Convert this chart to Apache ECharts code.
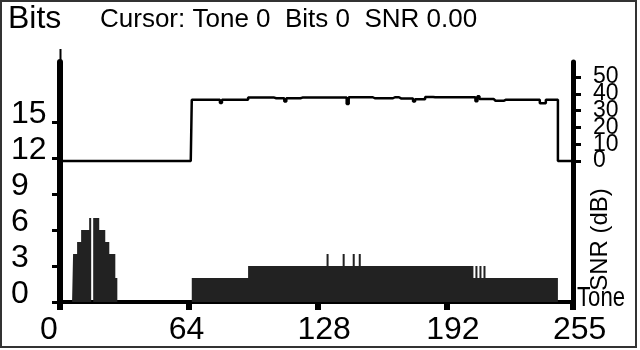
<!DOCTYPE html>
<html>
<head>
<meta charset="utf-8">
<script src="https://cdn.jsdelivr.net/npm/echarts@6/dist/echarts.min.js"></script>
<style>
html,body{margin:0;padding:0;background:#fff;}
#chart{width:640px;height:350px;}
</style>
</head>
<body>
<div id="chart"></div>
<script>
// Bits loaded per tone (tones 0..255)
const bitsPerTone = [
  0,0,0,0,0,0,0,4,4,5,5,6,6,6,6,7,
  0,7,7,7,6,6,6,5,5,4,4,4,2,0,0,0,
  0,0,0,0,0,0,0,0,0,0,0,0,0,0,0,0,
  0,0,0,0,0,0,0,0,0,0,0,0,0,0,0,0,
  0,0,2,2,2,2,2,2,2,2,2,2,2,2,2,2,
  2,2,2,2,2,2,2,2,2,2,2,2,2,2,3,3,
  3,3,3,3,3,3,3,3,3,3,3,3,3,3,3,3,
  3,3,3,3,3,3,3,3,3,3,3,3,3,3,3,3,
  3,3,3,3,3,4,3,3,3,3,3,3,3,4,3,3,
  3,3,4,3,3,4,3,3,3,3,3,3,3,3,3,3,
  3,3,3,3,3,3,3,3,3,3,3,3,3,3,3,3,
  3,3,3,3,3,3,3,3,3,3,3,3,3,3,3,3,
  3,3,3,3,3,3,3,3,3,3,3,3,3,3,2,3,
  2,3,2,3,2,2,2,2,2,2,2,2,2,2,2,2,
  2,2,2,2,2,2,2,2,2,2,2,2,2,2,2,2,
  2,2,2,2,2,2,2,2,0,0,0,0,0,0,0,0
];

// SNR per tone in dB (tones 0..255)
const snrPerTone = [
  0,0,0,0,0,0,0,0,0,0,0,0,0,0,0,0,
  0,0,0,0,0,0,0,0,0,0,0,0,0,0,0,0,
  0,0,0,0,0,0,0,0,0,0,0,0,0,0,0,0,
  0,0,0,0,0,0,0,0,0,0,0,0,0,0,0,0,
  0,0,36.5,36.5,36.5,36.5,36.5,36.5,36.5,36.5,36.5,36.5,36.5,36.5,36.5,36.5,
  34.5,36.5,36.5,36.5,36.5,36.5,36.5,36.5,36.5,36.5,36.5,36.5,36.5,36.5,37.8,37.8,
  37.8,37.8,37.8,37.8,37.8,37.8,37.8,37.8,37.8,37.8,37.8,37.4,37.4,37.4,37.4,37.4,
  35.5,37.4,37.4,37.4,37.4,37.4,37.4,37.4,37.8,37.8,37.8,37.8,37.8,37.8,37.8,37.8,
  37.8,37.8,37.8,37.8,37.8,37.8,37.8,37.8,37.8,37.8,37.8,37.8,37.8,37.8,37.8,34,
  38,38,38,38,38,38,38,38,38,38,38,38,37.4,37.4,37.4,37.4,
  37.4,37.4,37.4,37.4,37.4,37.4,38,38,38,37.3,37.3,37.3,37.3,37.3,37.3,37.3,
  35.5,36.8,36.8,36.8,36.8,36.8,38.2,38.2,38.2,38.2,38,38,38,38,38,38,
  38,38,38,38,38,38,38,38,38,38,38,38,38,38,38,35.6,
  38.6,37,37,37,37,37,37,37,35.9,35.9,35.9,35.9,35.9,36.5,36.5,36.5,
  36.5,36.5,36.5,36.5,36.5,36.5,36.5,36.5,36.5,36.5,36.5,36.5,36.5,36.5,36.5,34.4,
  34.4,34.4,36.5,36.5,36.5,36.5,36.5,36.5,0,0,0,0,0,0,0,0
];

const toneTicks = [0, 64, 128, 192, 255];
const bitTicks = [0, 3, 6, 9, 12, 15];
const snrTicks = [0, 10, 20, 30, 40, 50];
const snrLabelsEven = [0, 20, 40];
const snrLabelsOdd = [10, 30, 50];

const titleText = 'Bits';
const cursorText = 'Cursor: Tone 0  Bits 0  SNR 0.00';
const snrAxisName = 'SNR (dB)';
const toneAxisName = 'Tone';

const FONT = '"Liberation Sans", Arial, sans-serif';
const SNR_MIN = -84, SNR_MAX = 59;

const chart = echarts.init(document.getElementById('chart'), null, {renderer: 'canvas'});

function snrLabelAxis(values) {
  return {
    type: 'value', min: SNR_MIN, max: SNR_MAX, position: 'right', offset: 0,
    axisLine: {show: false}, axisTick: {show: false}, splitLine: {show: false},
    axisLabel: {customValues: values, margin: 20, align: 'left',
                hideOverlap: false, showMinLabel: true, showMaxLabel: true,
                fontSize: 23, color: '#000', fontFamily: FONT}
  };
}

const option = {
  animation: false,
  backgroundColor: '#fff',
  title: [
    {text: titleText, left: 8, top: 3, padding: 0,
     textStyle: {fontSize: 32, fontWeight: 'normal', color: '#000', fontFamily: FONT}},
    {text: cursorText, left: 100, top: 7, padding: 0,
     textStyle: {fontSize: 26, fontWeight: 'normal', color: '#000', fontFamily: FONT}}
  ],
  grid: {left: 60, right: 67, top: 62, bottom: 48, containLabel: false},
  xAxis: {
    type: 'value', min: 0, max: 255,
    axisLine: {lineStyle: {color: '#000', width: 4}},
    axisTick: {customValues: toneTicks, length: 8, lineStyle: {color: '#000', width: 6}},
    axisLabel: {
      customValues: toneTicks, margin: 12, align: 'center', hideOverlap: false,
      showMinLabel: true, showMaxLabel: true,
      formatter: v => '{t|' + v + '}',
      rich: {t: {width: 40, align: 'left', fontSize: 32, color: '#000', fontFamily: FONT}}
    },
    splitLine: {show: false}
  },
  yAxis: [
    {
      type: 'value', min: 0, max: 20, position: 'left',
      axisLine: {show: true, lineStyle: {color: '#000', width: 6}},
      axisTick: {show: true, customValues: bitTicks, length: 8, lineStyle: {color: '#000', width: 3}},
      axisLabel: {customValues: bitTicks, margin: 49, align: 'left', verticalAlign: 'bottom',
                  hideOverlap: false, showMinLabel: true, showMaxLabel: true,
                  lineHeight: 15, fontSize: 32, color: '#000', fontFamily: FONT},
      splitLine: {show: false}
    },
    {
      type: 'value', min: SNR_MIN, max: SNR_MAX, position: 'right', offset: 0,
      axisLine: {show: true, lineStyle: {color: '#000', width: 5}},
      axisTick: {show: true, customValues: snrTicks, length: 8, lineStyle: {color: '#000', width: 3}},
      axisLabel: {show: false},
      splitLine: {show: false}
    },
    snrLabelAxis(snrLabelsEven),
    snrLabelAxis(snrLabelsOdd)
  ],
  series: [
    {
      name: 'Bits', type: 'line', step: 'middle', yAxisIndex: 0,
      data: bitsPerTone.map((b, i) => [i, b]),
      symbol: 'none', lineStyle: {width: 0, opacity: 0},
      areaStyle: {color: '#222', opacity: 1}, z: 1
    },
    {
      name: 'SNR', type: 'line', step: 'middle', yAxisIndex: 1,
      data: snrPerTone.map((s, i) => [i, s]),
      symbol: 'none', lineStyle: {color: '#000', width: 2.5}, z: 3
    }
  ]
};
chart.setOption(option);

// decorations placed through the chart's own scales
const topLeft = chart.convertToPixel({xAxisIndex: 0, yAxisIndex: 0}, [0, 20]);
const bottomRight = chart.convertToPixel({xAxisIndex: 0, yAxisIndex: 0}, [255, 0]);
const snrMid = chart.convertToPixel({xAxisIndex: 0, yAxisIndex: 1}, [255, -42]);

chart.setOption({
  graphic: [
    {type: 'rect', shape: {x: 1, y: 1, width: 635, height: 346},
     style: {fill: 'none', stroke: '#333', lineWidth: 2}, silent: true},
    {type: 'line', shape: {x1: topLeft[0] + 0.5, y1: topLeft[1] - 13, x2: topLeft[0] + 0.5, y2: topLeft[1]},
     style: {stroke: '#000', lineWidth: 2}},
    {type: 'text', x: bottomRight[0] + 27, y: snrMid[1] + 8, rotation: Math.PI / 2,
     style: {text: snrAxisName, fontSize: 24, fontFamily: FONT, fill: '#000',
             align: 'center', verticalAlign: 'middle'}},
    {type: 'text', x: bottomRight[0] + 4, y: bottomRight[1] + 10, scaleX: 0.82,
     style: {text: toneAxisName, fontSize: 27, fontFamily: FONT, fill: '#000',
             align: 'left', verticalAlign: 'bottom'}}
  ]
});
</script>
</body>
</html>
